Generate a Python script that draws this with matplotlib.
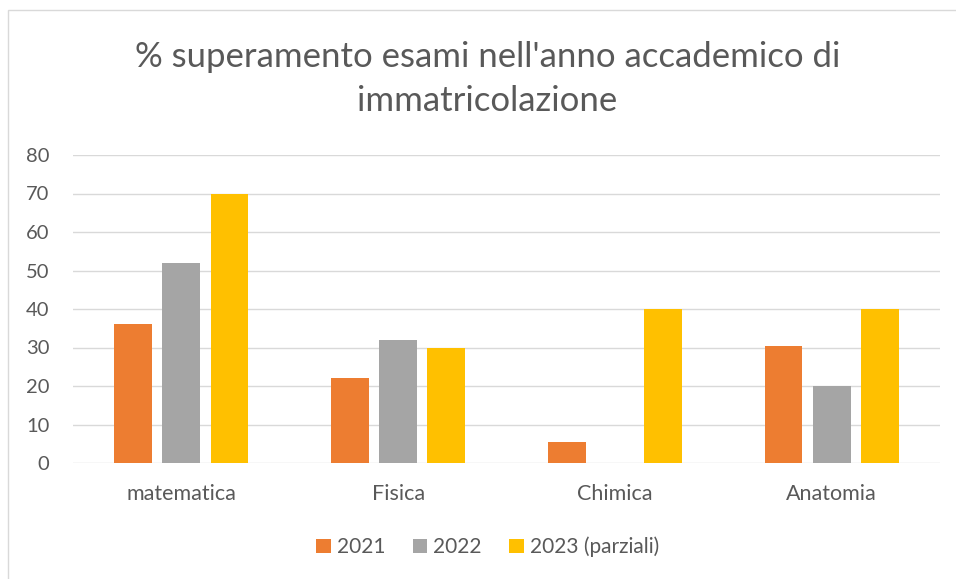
import matplotlib
matplotlib.use("Agg")
import matplotlib.pyplot as plt
from matplotlib.patches import Rectangle
import numpy as np

categorie = ["matematica", "Fisica", "Chimica", "Anatomia"]
anni = ["2021", "2022", "2023 (parziali)"]
v2021 = [36.1, 22.1, 5.5, 30.4]
v2022 = [52, 32, 0, 20]
v2023 = [70, 30, 40, 40]
colori = ["#ED7D31", "#A5A5A5", "#FFC000"]

plt.rcParams['font.family'] = ['Lato', 'DejaVu Sans']

fig = plt.figure(figsize=(9.56, 5.79), dpi=100)
fig.patches.append(Rectangle((8/956, -0.05), 1.1, 1 - 10/579 + 0.05,
                             transform=fig.transFigure, fill=False,
                             edgecolor="#d9d9d9", linewidth=1))
ax = fig.add_axes([73/956, 116/579, 867/956, 308/579])

x = np.arange(len(categorie))
w = 0.175
passo = 0.222
for i, (serie, nome) in enumerate(zip([v2021, v2022, v2023], anni)):
    ax.bar(x + (i - 1) * passo, serie, w, color=colori[i], label=nome, zorder=3)

ax.set_xlim(-0.5, 3.5)
ax.set_ylim(0, 80)
ax.set_yticks(range(0, 81, 10))
ax.set_xticks(x)
ax.set_xticklabels(categorie)
ax.grid(axis='y', color="#d9d9d9", linewidth=1, zorder=0)
for s in ax.spines.values():
    s.set_visible(False)
ax.tick_params(axis='y', length=0, labelsize=14.5, colors="#595959", pad=17)
ax.tick_params(axis='x', length=0, labelsize=15.5, colors="#595959", pad=15)

fig.text(0.51, 0.864, "% superamento esami nell'anno accademico di\nimmatricolazione",
         ha='center', va='center', fontsize=25, color="#595959", linespacing=1.45)

fig.legend(loc='center', bbox_to_anchor=(0.51, 0.055), ncol=3, frameon=False,
           fontsize=15, labelcolor="#595959", handlelength=0.7, handleheight=0.7,
           handletextpad=0.3, columnspacing=1.3)

fig.savefig("out.png", dpi=100)
